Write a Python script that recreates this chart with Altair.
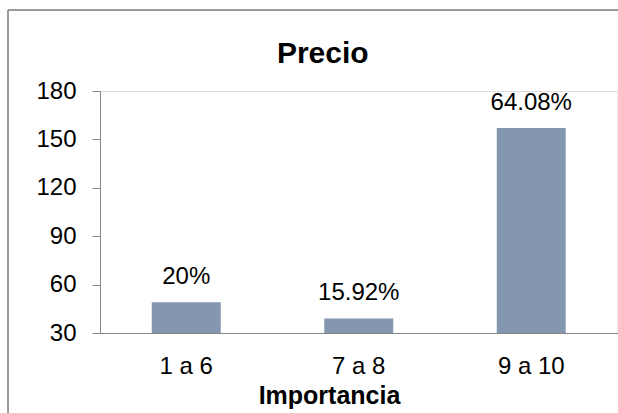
import altair as alt
import pandas as pd

categories = ["1 a 6", "7 a 8", "9 a 10"]
values = [49, 39, 157]
labels = ["20%", "15.92%", "64.08%"]

df = pd.DataFrame({"cat": categories, "val": values, "lab": labels})

FONT = "Liberation Sans"
W, H = 517.5, 242
PL, PT = 100, 91

base = alt.Chart(df)

x_enc = alt.X("cat:N", sort=categories,
              scale=alt.Scale(paddingInner=0.6, paddingOuter=0.3),
              axis=alt.Axis(title="Importancia", labelAngle=0, ticks=False,
                            domainColor="#868686", labelFont=FONT, labelFontSize=24,
                            labelColor="black", labelBaseline="alphabetic",
                            labelPadding=40, titleFont=FONT, titleFontSize=25,
                            titleFontWeight="bold", titleColor="black",
                            titleX=229, titleY=70.5, titleBaseline="alphabetic",
                            titleAlign="center", titleAnchor="start"))

y_enc = alt.Y("val:Q", scale=alt.Scale(domain=[30, 180], zero=False, nice=False),
              axis=alt.Axis(title=None, values=[30, 60, 90, 120, 150, 180], grid=False,
                            domainColor="#868686", tickColor="#868686", tickSize=8,
                            labelFont=FONT, labelFontSize=24, labelColor="black",
                            labelPadding=16))

bars = base.mark_bar(color="#8497B0").encode(x=x_enc, y=y_enc, y2=alt.datum(30))

text = base.mark_text(font=FONT, fontSize=24, color="black", dy=-25, baseline="middle").encode(
    x=alt.X("cat:N", sort=categories), y="val:Q", text="lab:N")

border_top = base.mark_rule(stroke="#8c8c8c", strokeWidth=1, clip=False).encode(
    x=alt.value(-92), x2=alt.value(530), y=alt.value(-81))
border_left = base.mark_rule(stroke="#8c8c8c", strokeWidth=1, clip=False).encode(
    x=alt.value(-92), y=alt.value(-81), y2=alt.value(330))

chart = alt.layer(border_top, border_left, bars, text).properties(
    width=W, height=H,
    title=alt.TitleParams("Precio", font=FONT, fontSize=30, fontWeight="bold",
                          color="black", anchor="middle", dx=-36, offset=0, dy=83.3,
                          baseline="alphabetic"),
    autosize=alt.AutoSizeParams(type="none"),
    padding={"left": PL, "top": PT, "right": 0.5, "bottom": 80},
).configure_view(stroke=None).configure(background="white")

chart.save("out.html", embed_options={"renderer": "svg", "actions": False})
